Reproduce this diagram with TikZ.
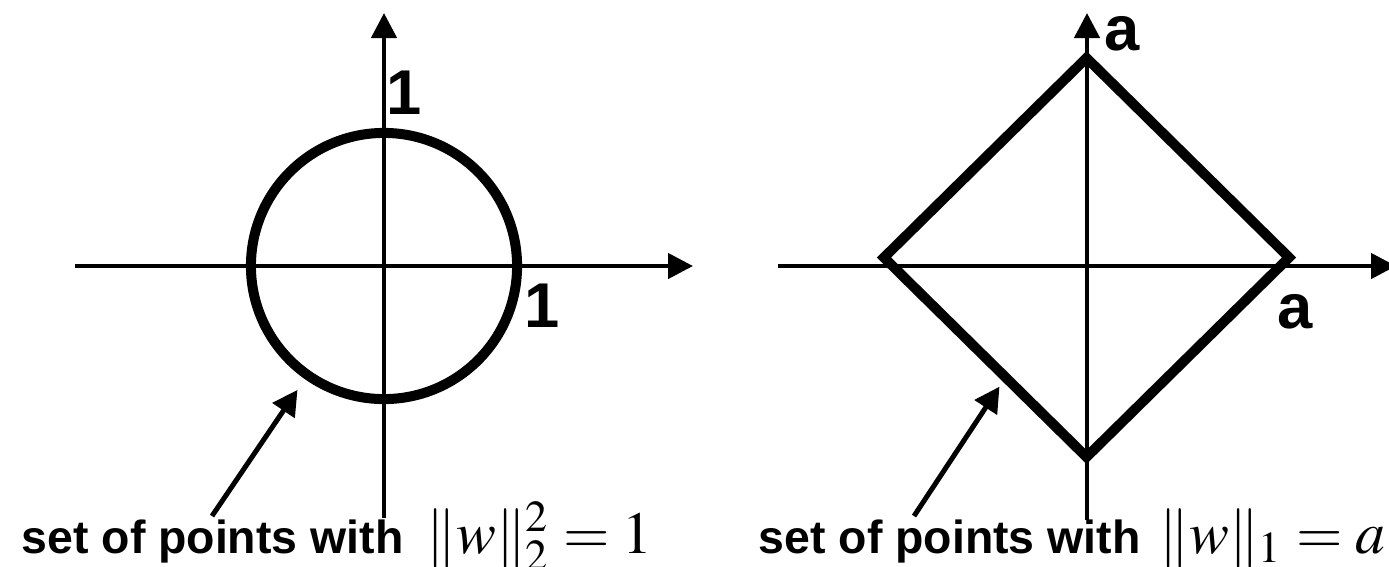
\documentclass[tikz,border=0pt]{standalone}
\usepackage{mathptmx}
\usepackage[no-math]{fontspec}
\setmainfont{Liberation Sans}
\usetikzlibrary{arrows.meta,shapes.geometric}

\newcommand{\normtext}[1]{{\fontsize{17}{18}\selectfont\(#1\)}}

\begin{document}
\begin{tikzpicture}[
  x=0.01cm,y=-0.01cm,
  axis/.style={-{Triangle[length=0.25cm,width=0.25cm]},line width=0.045cm},
  boundary/.style={draw,line width=0.1cm,inner sep=0pt},
  pointer/.style={-{Triangle[length=0.25cm,width=0.26cm]},line width=0.05cm},
  tick/.style={inner sep=0pt,font=\fontsize{18}{18}\selectfont\bfseries},
  caption/.style={inner sep=0pt,anchor=base west,
                  font=\fontsize{13.2}{16}\selectfont\bfseries}
]
  \useasboundingbox (0,0) rectangle (1389,566);

  % L2 ball
  \coordinate (west1) at (75,266);
  \coordinate (east1) at (693,266);
  \coordinate (south1) at (384,518);
  \coordinate (north1) at (384,13);
  \draw[axis] (west1) -- (east1);
  \draw[axis] (south1) -- (north1);

  \node[boundary,circle,minimum size=2.66cm] (ball) at (384,266) {};
  \node[tick] (one1) at (404,92.5) {1};
  \node[tick] (one2) at (542,305.5) {1};

  \node[caption] (cap1) at (21,553)
    {set of points with\hspace{0.1cm} \normtext{\|w\|_2^2 = 1}};
  \coordinate (tail1) at (212,516);
  \draw[pointer,shorten >=0.13cm] (tail1) -- (ball.235);

  % L1 ball
  \coordinate (west2) at (778,266);
  \coordinate (east2) at (1396,266);
  \coordinate (south2) at (1087,520);
  \coordinate (north2) at (1087,13);
  \draw[axis] (west2) -- (east2);
  \draw[axis] (south2) -- (north2);

  \node[boundary,diamond,minimum width=4.09cm,minimum height=4.03cm] (lasso) at (1086.5,257.5) {};
  \node[tick] (a1) at (1122.5,33.5) {a};
  \node[tick] (a2) at (1295.5,311.5) {a};

  \node[caption] (cap2) at (758,553)
    {set of points with\hspace{0.06cm} \normtext{\|w\|_1 = a}};
  \coordinate (tail2) at (914,516);
  \draw[pointer,shorten >=0.06cm] (tail2) -- (lasso.236);

\end{tikzpicture}
\end{document}
